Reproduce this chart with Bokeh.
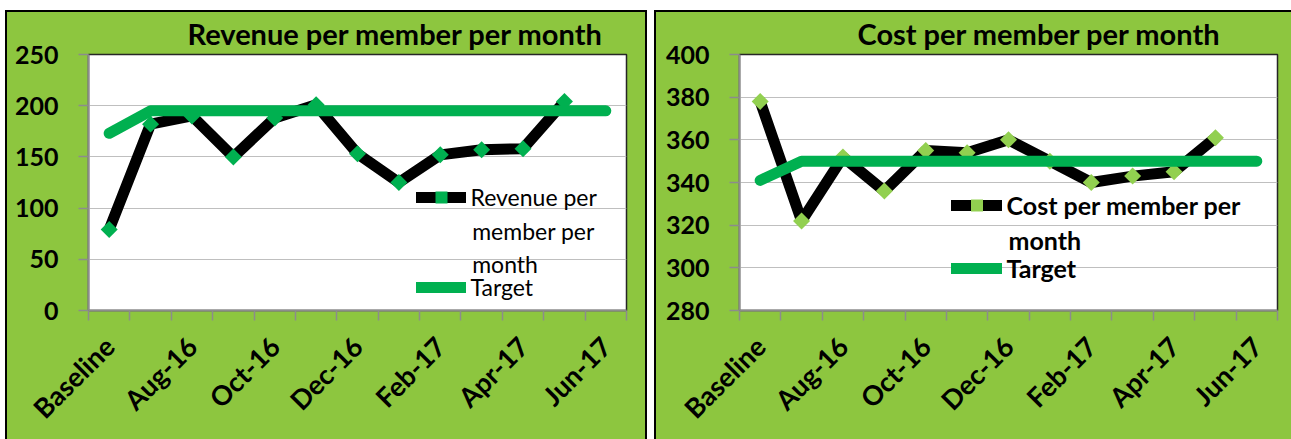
import math
from bokeh.plotting import figure
from bokeh.models import Range1d, FixedTicker, Label, Legend, LegendItem, Title, Spacer
from bokeh.layouts import row, column
from bokeh.embed import file_html
from bokeh.resources import INLINE

categories = ["Baseline", "Jul-16", "Aug-16", "Sep-16", "Oct-16", "Nov-16", "Dec-16",
              "Jan-17", "Feb-17", "Mar-17", "Apr-17", "May-17", "Jun-17"]
revenue = [79, 182, 190, 150, 188, 201, 153, 125, 152, 157, 158, 204]
revenue_target = [173, 195, 195, 195, 195, 195, 195, 195, 195, 195, 195, 195, 195]
cost = [378, 322, 352, 336, 355, 354, 360, 350, 340, 343, 345, 361]
cost_target = [341, 350, 350, 350, 350, 350, 350, 350, 350, 350, 350, 350, 350]
revenue_ticks = [0, 50, 100, 150, 200, 250]
cost_ticks = [280, 300, 320, 340, 360, 380, 400]
revenue_title = "Revenue per member per month"
cost_title = "Cost per member per month"
revenue_legend = ["Revenue per", "member per", "month"]
cost_legend = ["Cost per member per", "month"]
target_label = "Target"

BG = "#8DC63F"
FONT = "Lato"


def make_chart(width, height, bl, br, bt, bb, title, title_off, vals, target,
               yticks, marker_color, legend_lines, leg_x, leg_y1, leg_y2, cont_x, cont_ys,
               glyph_w, legend_bold, legend_size, frame_css):
    p = figure(width=width, height=height, output_backend="svg", toolbar_location=None,
               x_range=Range1d(0, len(categories)), y_range=Range1d(yticks[0], yticks[-1]),
               min_border_left=bl, min_border_right=br, min_border_top=bt, min_border_bottom=bb,
               background_fill_color="white", border_fill_color=BG,
               outline_line_color="#262626", outline_line_width=1.5)
    p.stylesheets = [":host { position: relative; } :host::after { content: ''; position: absolute; "
                     "left: 0; top: 0; right: 0; bottom: 0; pointer-events: none; z-index: 100; "
                     + frame_css + " }"]

    p.title = Title(text=title, align="left", offset=title_off, standoff=7,
                    text_font=FONT, text_font_style="bold", text_font_size="29px",
                    text_color="black")

    xs = [i + 0.5 for i in range(len(vals))]
    xt = [i + 0.5 for i in range(len(target))]
    ln = p.line(xs, vals, line_color="black", line_width=11, line_join="round", line_cap="round")
    pts = p.scatter(xs, vals, marker="square", size=12, angle=math.pi / 4,
                    fill_color=marker_color, line_color=None)
    tg = p.line(xt, target, line_color="#00B050", line_width=11, line_join="round", line_cap="round")

    # x axis
    shown = list(range(0, len(categories), 2))
    p.xaxis.ticker = FixedTicker(ticks=[i + 0.5 for i in shown],
                                 minor_ticks=list(range(len(categories) + 1)))
    p.xaxis.major_label_overrides = {i + 0.5: categories[i] for i in shown}
    p.xaxis.major_label_orientation = math.pi / 4
    p.xaxis.major_tick_out = 0
    p.xaxis.major_tick_in = 0
    p.xaxis.minor_tick_out = 10
    p.xaxis.minor_tick_in = 0
    p.xaxis.minor_tick_line_color = "#8C8C8C"
    p.xaxis.minor_tick_line_width = 1.5
    p.xaxis.major_label_standoff = 21
    p.xaxis.major_label_text_font_size = "27px"
    p.xaxis.major_label_text_line_height = 0.9
    p.xgrid.visible = False

    # y axis
    p.yaxis.ticker = FixedTicker(ticks=yticks)
    p.yaxis.major_tick_out = 10
    p.yaxis.major_tick_in = 0
    p.yaxis.minor_tick_out = 0
    p.yaxis.minor_tick_in = 0
    p.yaxis.major_tick_line_color = "#8C8C8C"
    p.yaxis.major_tick_line_width = 1.5
    p.yaxis.major_label_standoff = 20
    p.yaxis.major_label_text_font_size = "25px"
    p.ygrid.grid_line_color = "#BFBFBF"
    p.ygrid.grid_line_width = 1

    for ax in (p.xaxis[0], p.yaxis[0]):
        ax.axis_line_color = "#8C8C8C"
        ax.axis_line_width = 2
        ax.major_label_text_font = FONT
        ax.major_label_text_font_style = "bold"
        ax.major_label_text_color = "black"

    style = "bold" if legend_bold else "normal"
    common = dict(background_fill_alpha=0, border_line_color=None, padding=0, margin=0,
                  spacing=0, glyph_width=glyph_w, glyph_height=30, label_height=30,
                  label_standoff=5, label_text_font=FONT, label_text_font_style=style,
                  label_text_font_size=legend_size, label_text_color="black")
    leg1 = Legend(items=[LegendItem(label=legend_lines[0], renderers=[ln, pts])],
                  location=(leg_x, leg_y1), **common)
    leg2 = Legend(items=[LegendItem(label=target_label, renderers=[tg])],
                  location=(leg_x, leg_y2), **common)
    p.add_layout(leg1)
    p.add_layout(leg2)
    for txt, yy in zip(legend_lines[1:], cont_ys):
        p.add_layout(Label(x=cont_x, y=yy, x_units="screen", y_units="screen", text=txt,
                           text_align="left", text_baseline="middle", text_font=FONT,
                           text_font_style=style, text_font_size=legend_size, text_color="black"))
    return p


p1 = make_chart(642, 429, 83, 21, 44, 129, revenue_title, 99, revenue, revenue_target,
                revenue_ticks, "#00B050", revenue_legend, 327.5, 98.3, 8.3, 383.7, [80, 47],
                50, False, "23px",
                "border-left: 2px solid #000; border-top: 2px solid #000; border-right: 2px solid #000;")
p2 = make_chart(637, 429, 85, 14, 44, 128, cost_title, 118, cost, cost_target,
                cost_ticks, "#92D050", cost_legend, 211.5, 90.3, 27, 269, [71],
                51, True, "25px",
                "border-left: 2px solid #000; border-top: 2px solid #000;")

layout = column(Spacer(height=10, width=1291),
                row(Spacer(width=5, height=429), p1, Spacer(width=7, height=429), p2))
open("out.html", "w").write(file_html(layout, INLINE))
